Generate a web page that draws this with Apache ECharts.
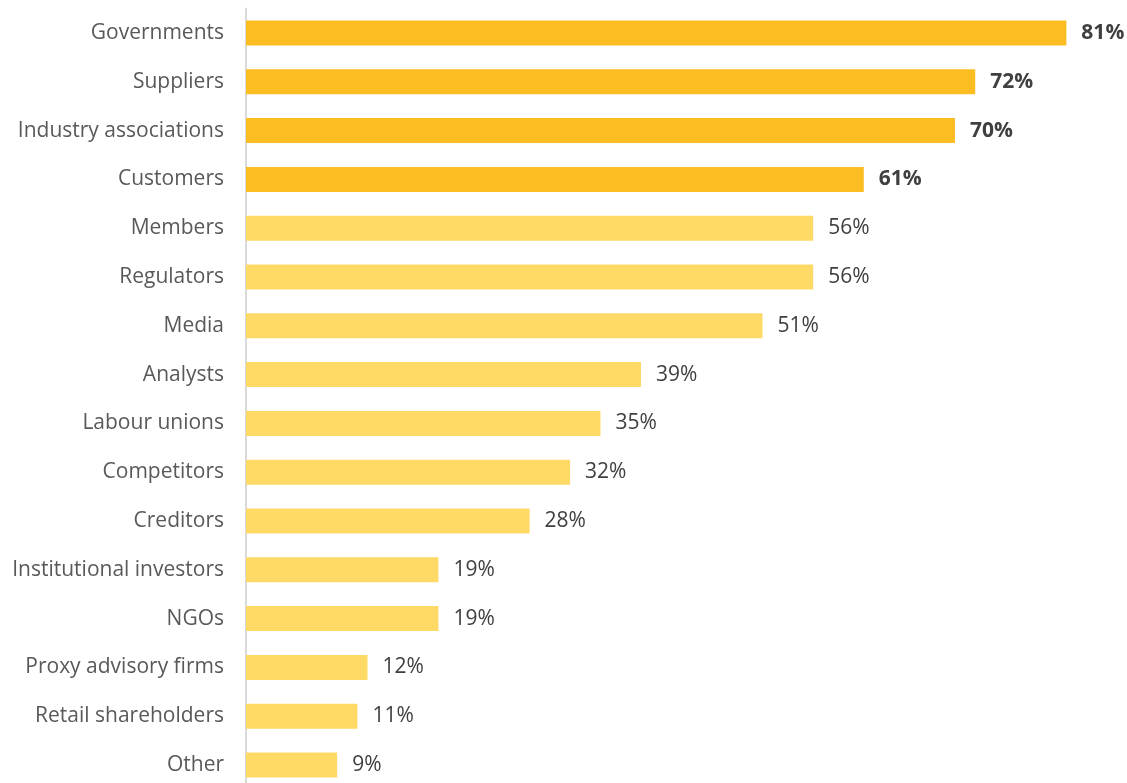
<!DOCTYPE html>
<html>
<head>
<meta charset="utf-8">
<script src="https://cdn.jsdelivr.net/npm/echarts@6/dist/echarts.min.js"></script>
<style>
  html, body { margin: 0; padding: 0; background: #ffffff; }
  #chart { width: 1127px; height: 783px; }
</style>
</head>
<body>
<div id="chart"></div>
<script>
// Stakeholder groups, top to bottom
const categories = [
  'Governments', 'Suppliers', 'Industry associations', 'Customers',
  'Members', 'Regulators', 'Media', 'Analysts', 'Labour unions',
  'Competitors', 'Creditors', 'Institutional investors', 'NGOs',
  'Proxy advisory firms', 'Retail shareholders', 'Other'
];
// Share of respondents (%)
const values = [81, 72, 70, 61, 56, 56, 51, 39, 35, 32, 28, 19, 19, 12, 11, 9];
// Number of leading groups drawn in the stronger colour with bold labels
const highlightCount = 4;

const strong = '#FCBD22';
const soft = '#FFD966';
const fontFamily = '"Open Sans", sans-serif';

const data = values.map((v, i) => {
  const hi = i < highlightCount;
  return {
    value: v,
    itemStyle: { color: hi ? strong : soft },
    label: { fontWeight: hi ? 'bold' : 'normal' }
  };
});

const chart = echarts.init(document.getElementById('chart'));
chart.setOption({
  animation: false,
  grid: {
    left: 246, top: 8.6, height: 780.8, width: 871,
    containLabel: false,
    outerBoundsMode: 'none'
  },
  xAxis: {
    type: 'value', min: 0, max: 86,
    show: false
  },
  yAxis: {
    type: 'category',
    inverse: true,
    data: categories,
    axisLine: { show: true, lineStyle: { color: '#D9D9D9', width: 2 } },
    axisTick: { show: false },
    axisLabel: {
      margin: 22,
      color: '#595959',
      fontFamily: fontFamily,
      fontSize: 21
    }
  },
  series: [{
    type: 'bar',
    data: data,
    barWidth: 25,
    label: {
      show: true,
      position: 'right',
      distance: 15,
      formatter: '{c}%',
      color: '#404040',
      fontFamily: fontFamily,
      fontSize: 21
    }
  }]
});
</script>
</body>
</html>
